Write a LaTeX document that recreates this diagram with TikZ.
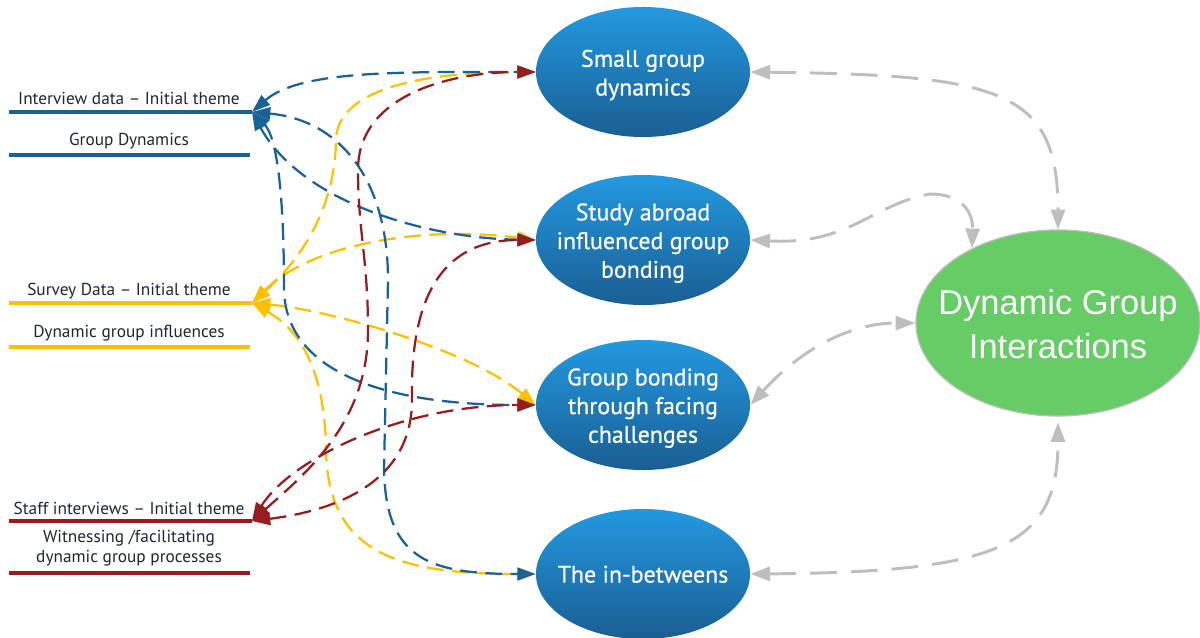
\documentclass[tikz,border=0pt]{standalone}
\usepackage{fontspec}
\setmainfont{PT Sans}
\newfontfamily\themefont[BoldFont={PT Sans}, BoldFeatures={FakeBold=0.6}]{PT Sans}
\newfontfamily\roundfont{Liberation Sans}
\usetikzlibrary{arrows.meta,shapes.geometric}

\definecolor{linkblue}{RGB}{26,98,150}
\definecolor{linkyellow}{RGB}{255,192,0}
\definecolor{linkred}{RGB}{150,28,30}
\definecolor{themetop}{RGB}{35,153,224}
\definecolor{themebot}{RGB}{26,94,146}
\definecolor{coregreen}{RGB}{102,204,102}
\definecolor{softgray}{RGB}{190,190,190}
\definecolor{ink}{RGB}{30,38,50}

\begin{document}
\begin{tikzpicture}[x=0.025cm,y=-0.025cm,
  theme/.style={ellipse, minimum width=5.35cm, minimum height=3.25cm,
    inner sep=0pt, top color=themetop, bottom color=themebot},
  themetext/.style={text=white, align=center, inner sep=0pt, yshift=-2.2pt,
    font=\themefont\bfseries\fontsize{17}{20.4}\selectfont},
  core/.style={ellipse, minimum width=7.1cm, minimum height=4.65cm,
    inner sep=0pt, fill=coregreen, draw=softgray, line width=0.9pt},
  coretext/.style={text=white, align=center, inner sep=0pt, yshift=-0.8pt,
    font=\roundfont\fontsize{24.5}{31}\selectfont},
  sourcetext/.style={text=ink, align=center, inner sep=0pt,
    font=\fontsize{12.3}{14.4}\selectfont},
  sourceline/.style={line width=2.8pt},
  link/.style={line width=1.6pt, dash pattern=on 12pt off 6pt,
    arrows={Triangle[length=13pt,width=9pt]-Triangle[length=13pt,width=9pt]}},
  glink/.style={softgray, line width=2.1pt, dash pattern=on 19pt off 10pt,
    arrows={Triangle[length=14pt,width=10pt]-Triangle[length=14pt,width=10pt]}}
]
\useasboundingbox (0,0) rectangle (1200,637);

% themes
\node[theme, label={[themetext]center:Small group\\dynamics}] (sgd) at (643,72) {};
\node[theme, label={[themetext]center:Study abroad\\influenced group\\bonding}] (sab) at (643,240) {};
\node[theme, label={[themetext]center:Group bonding\\through facing\\challenges}] (gbf) at (643,405) {};
\node[theme, label={[themetext, yshift=2pt]center:The in-betweens}] (ib) at (643,574) {};
\node[core, label={[coretext]center:Dynamic Group\\Interactions}] (dgi) at (1058,323) {};

% data sources
\coordinate (ivS) at (9,112);  \coordinate (ivE) at (252,112);
\coordinate (gdS) at (9,155);  \coordinate (gdE) at (250,155);
\coordinate (svS) at (9,303);  \coordinate (svE) at (252,303);
\coordinate (dgS) at (9,347);  \coordinate (dgE) at (250,347);
\coordinate (stS) at (9,521);  \coordinate (stE) at (252,521);
\coordinate (wfS) at (9,573);  \coordinate (wfE) at (250,573);

\draw[sourceline, linkblue]   (ivS) -- (ivE);
\draw[sourceline, linkblue]   (gdS) -- (gdE);
\draw[sourceline, linkyellow] (svS) -- (svE);
\draw[sourceline, linkyellow] (dgS) -- (dgE);
\draw[sourceline, linkred]    (stS) -- (stE);
\draw[sourceline, linkred]    (wfS) -- (wfE);

\node[sourcetext] (ivT) at (129,98)  {Interview data -- Initial theme};
\node[sourcetext] (gdT) at (129,141) {Group Dynamics};
\node[sourcetext] (svT) at (129,291) {Survey Data -- Initial theme};
\node[sourcetext] (dgT) at (129,333) {Dynamic group influences};
\node[sourcetext] (stT) at (129,508) {Staff interviews -- Initial theme};
\node[sourcetext] (wfT) at (129,548) {Witnessing /facilitating\\dynamic group processes};

% survey links
\draw[link, linkyellow] (svE) .. controls +(48,-43) and (335,210) .. (336,140)
  .. controls (337,90) and (420,72) .. (sgd.west);
\draw[link, linkyellow] (svE) .. controls +(58,-58) and +(-116,-15) .. (sab.west);
\draw[link, linkyellow] (svE) .. controls +(78,7) and +(-66,-55) .. (gbf.west);
\draw[link, linkyellow] (svE) .. controls +(48,27) and (325,370) .. (326,450)
  .. controls (328,555) and (400,574) .. (ib.west);

% interview links
\draw[link, linkblue] (ivE) .. controls +(48,-42) and +(-135,0) .. (sgd.west);
\draw[link, linkblue] (ivE) .. controls +(48,88) and +(-115,-2) .. (sab.west);
\draw[link, linkblue] (ivE) .. controls +(23,23) and (284,180) .. (284,290)
  .. controls (286,370) and (380,405) .. (gbf.west);
\draw[link, linkblue] (ivE) .. controls +(88,8) and (388,180) .. (388,280)
  -- (384,470) .. controls (386,560) and (430,574) .. (ib.west);

% staff links
\draw[link, linkred] (stE) .. controls +(58,-51) and (368,420) .. (368,330)
  .. controls (368,260) and (358,230) .. (358,170)
  .. controls (358,95) and (450,72) .. (sgd.west);
\draw[link, linkred] (stE) .. controls +(88,-11) and (412,480) .. (412,400)
  .. controls (410,300) and (440,240) .. (sab.west);
\draw[link, linkred] (stE) .. controls +(38,-61) and +(-136,0) .. (gbf.west);

% links to the core theme
\draw[glink] (sgd.east) .. controls +(250,3) and +(0,-140) .. (dgi.north);
\draw[glink] (sab.east) .. controls +(100,5) and (870,205) .. (930,194)
  .. controls (965,194) and (973,215) .. (dgi.139);
\draw[glink] (gbf.east) .. controls +(50,-55) and +(-66,0) .. (dgi.west);
\draw[glink] (ib.east) .. controls +(250,-2) and +(0,124) .. ([yshift=-4pt]dgi.south);
\end{tikzpicture}
\end{document}
